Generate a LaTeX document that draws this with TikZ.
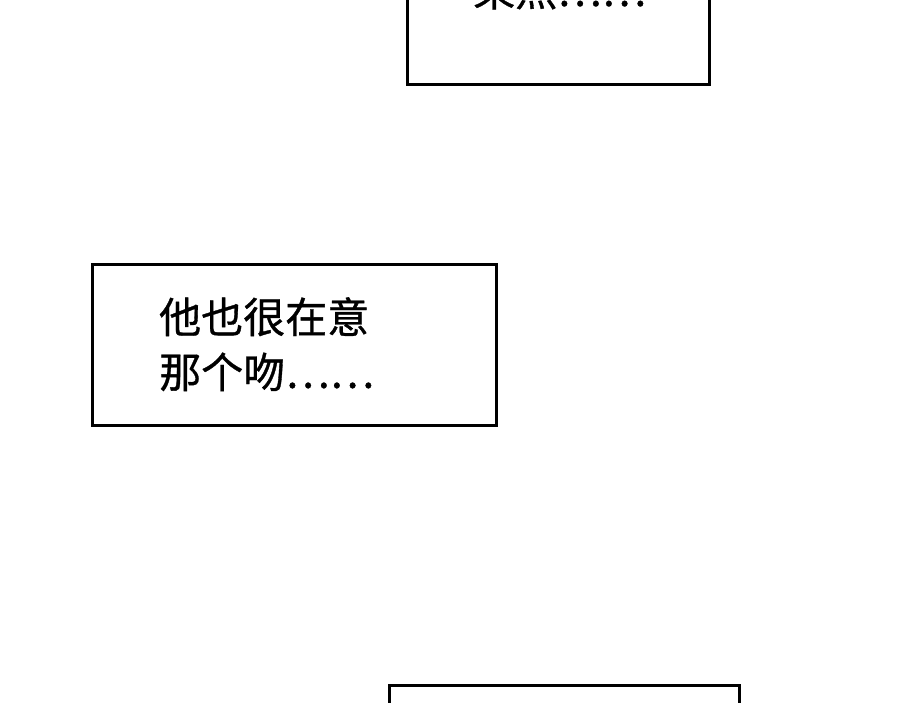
\documentclass[tikz,border=0pt]{standalone}
\usepackage{fontspec}
\newfontfamily\cjk[FakeBold=0.8]{Noto Sans CJK SC}
\begin{document}
\begin{tikzpicture}[x=1pt,y=-1pt,
  panel/.style={draw=black,line width=3pt,fill=white},
  txt/.style={font=\cjk\fontsize{42}{46}\selectfont,anchor=north west,inner sep=0pt,align=left}]
\useasboundingbox (0,0) rectangle (900,703);
\clip (0,0) rectangle (900,703);
\fill[white] (0,0) rectangle (900,703);
\draw[panel] (407,-20) rectangle (709,85);
\node[txt,anchor=base west] (t1) at (473,6) {果然……};
\draw[panel] (92,265) rectangle (496,425);
\node[txt] (t2) at (159,297) {他也很在意\\[9pt]那个吻……};
\draw[panel] (389,685) rectangle (739,740);
\end{tikzpicture}
\end{document}
